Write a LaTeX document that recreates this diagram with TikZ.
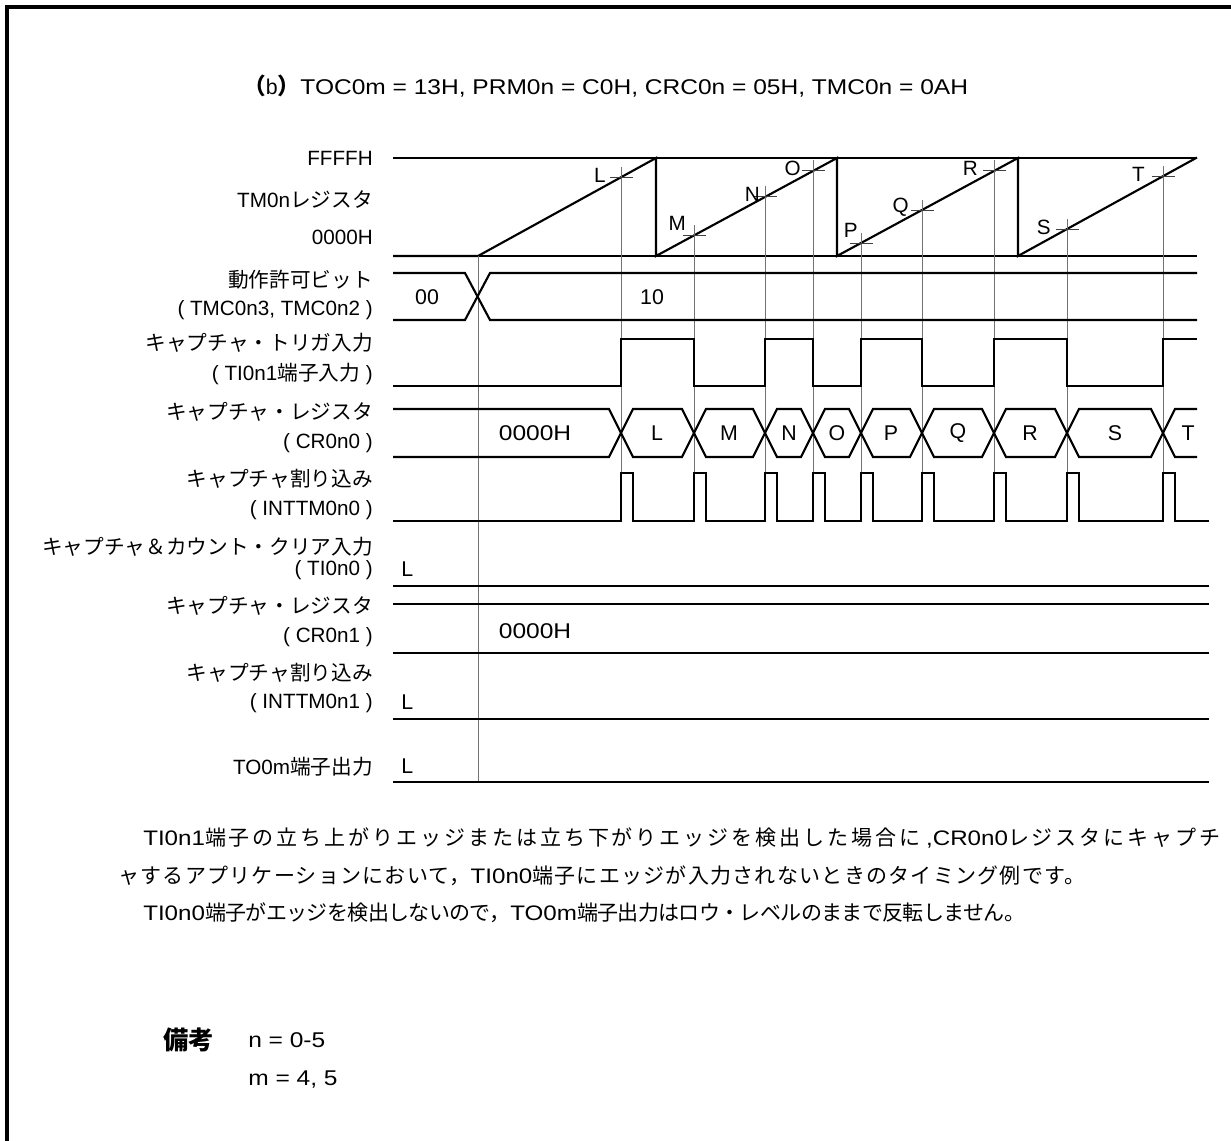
\documentclass[tikz,border=0pt]{standalone}
\usepackage{fontspec}
\setmainfont{Liberation Sans}
\newfontfamily\jp{Noto Sans CJK JP}
\newfontfamily\jpls[LetterSpace=14]{Noto Sans CJK JP}
\newfontfamily\jplt[LetterSpace=6]{Noto Sans CJK JP}
\newfontfamily\jpnr[LetterSpace=-3]{Noto Sans CJK JP}
\newfontfamily\widesans[FakeStretch=1.15]{Liberation Sans}
\newcommand\J[1]{{\jp #1}}
\newcommand\JL[1]{{\jpls #1}}
\newcommand\JT[1]{{\jplt #1}}
\newcommand\JN[1]{{\jpnr #1}}
\newcommand\W[1]{{\widesans #1}}
\begin{document}
\begin{tikzpicture}[x=0.75pt,y=-0.75pt,
  sig/.style={line width=1.6pt},
  refline/.style={line width=0.8pt},
  guide/.style={line width=0.7pt, black!55},
  tickmark/.style={line width=0.7pt, black!75},
  lbl/.style={anchor=east, inner sep=0pt, font=\fontsize{15.5}{18}\selectfont},
  val/.style={inner sep=0pt, font=\fontsize{16}{18}\selectfont},
  tlbl/.style={anchor=base east, inner sep=0pt, font=\fontsize{15.5}{18}\selectfont},
  para/.style={anchor=west, inner sep=0pt, font=\fontsize{15.75}{20}\selectfont},
]
\useasboundingbox (0,0) rectangle (1231,1141);
% frame
\draw[line width=2.4pt] (7,1141) -- (7,7) -- (1231,7);

% title
\node[anchor=west, inner sep=0pt, font=\fontsize{16}{18}\selectfont] (title) at (243,86)
  {{\fontsize{17}{18}\selectfont\J{\bfseries （}}b{\fontsize{17}{18}\selectfont\J{\bfseries ）}}\W{TOC0m = 13H, PRM0n = C0H, CRC0n = 05H, TMC0n = 0AH}};

% left labels
\node[lbl] (lF) at (373,158) {FFFFH};
\node[lbl] (lTM) at (373,200) {TM0n\J{レジスタ}};
\node[lbl] (l0) at (373,237) {0000H};
\node[lbl] (lEa) at (373,280) {\J{動作許可ビット}};
\node[lbl] (lEb) at (373,310) {( TMC0n3, TMC0n2 )};
\node[lbl] (lTa) at (373,343) {\J{キャプチャ・トリガ入力}};
\node[lbl] (lTb) at (373,374) {( TI0n1\J{端子入力} )};
\node[lbl] (lCa) at (373,412) {\J{キャプチャ・レジスタ}};
\node[lbl] (lCb) at (373,443) {( CR0n0 )};
\node[lbl] (lIa) at (373,479) {\J{キャプチャ割り込み}};
\node[lbl] (lIb) at (373,510) {( INTTM0n0 )};
\node[lbl] (lKa) at (373,547) {\J{キャプチャ＆カウント・クリア入力}};
\node[lbl] (lKb) at (373,570) {( TI0n0 )};
\node[lbl] (lDa) at (373,606) {\J{キャプチャ・レジスタ}};
\node[lbl] (lDb) at (373,637) {( CR0n1 )};
\node[lbl] (lJa) at (373,673) {\J{キャプチャ割り込み}};
\node[lbl] (lJb) at (373,703) {( INTTM0n1 )};
\node[lbl] (lTO) at (373,767) {TO0m\J{端子出力}};

% TM0n counter
\draw[refline] (393,158) -- (1197,158);
\draw[refline] (393,256) -- (1197,256);
\draw[sig] (393,256) -- (478,256) -- (656,158) -- (656,256) -- (837,158) -- (837,256)
  -- (1018,158) -- (1018,256) -- (1197,157.5);

% capture guides and ticks
\foreach \x/\y in {621/177,694/235,765/196,813/170,861/243,922/210,994/170,1067/229,1163/176}{
  \draw[guide] (\x,{\y-10}) -- (\x,521);
  \draw[tickmark] ({\x-11},\y) -- ({\x+12},\y);
}
\draw[guide] (478,256) -- (478,782);

\node[tlbl] (tL) at (606,183) {L};
\node[tlbl] (tM) at (686,231) {M};
\node[tlbl] (tN) at (760,202) {N};
\node[tlbl] (tO) at (801,176) {O};
\node[tlbl] (tP) at (858,238) {P};
\node[tlbl] (tQ) at (909,213) {Q};
\node[tlbl] (tR) at (978,176) {R};
\node[tlbl] (tS) at (1051,235) {S};
\node[tlbl] (tT) at (1145,182) {T};

% enable bits
\draw[sig] (393,273) -- (465,273) -- (490,320) -- (1197,320);
\draw[sig] (393,320) -- (465,320) -- (490,273) -- (1197,273);
\node[val] (e00) at (427,297) {00};
\node[val] (e10) at (652,297) {10};

% TI0n1
\draw[sig] (393,386) -- (621,386) -- (621,339) -- (694,339) -- (694,386) -- (765,386)
  -- (765,339) -- (813,339) -- (813,386) -- (861,386) -- (861,339) -- (922,339)
  -- (922,386) -- (994,386) -- (994,339) -- (1067,339) -- (1067,386) -- (1163,386)
  -- (1163,339) -- (1197,339);

% CR0n0 bus
\draw[sig] (393,409) -- (609,409) -- (621,433) -- (609,457) -- (393,457);
\foreach \a/\b in {621/694,694/765,765/813,813/861,861/922,922/994,994/1067,1067/1163}{
  \draw[sig] (\a,433) -- ({\a+12},409) -- ({\b-12},409) -- (\b,433) -- ({\b-12},457) -- ({\a+12},457) -- cycle;
}
\draw[sig] (1197,409) -- (1175,409) -- (1163,433) -- (1175,457) -- (1197,457);
\node[val] (v0) at (535,433) {\W{0000H}};
\foreach \x/\n in {657/L,729/M,789/N,837/O,891/P,958/Q,1030/R,1115/S,1188/T}{
  \node[val] (v\n) at (\x,433) {\n};
}

% INTTM0n0
\draw[sig] (393,521)
  \foreach \t in {621,694,765,813,861,922,994,1067,1163}{ -- (\t,521) -- (\t,473) -- ({\t+12},473) -- ({\t+12},521) }
  -- (1209,521);

% lower rows
\draw[sig] (393,586) -- (1209,586);
\node[val, anchor=base west] (k0) at (401,576) {L};
\draw[sig] (393,604) -- (1209,604);
\draw[sig] (393,653) -- (1209,653);
\node[val] (d0) at (535,631) {\W{0000H}};
\draw[sig] (393,719) -- (1209,719);
\node[val, anchor=base west] (j0) at (401,709) {L};
\draw[sig] (393,782) -- (1209,782);
\node[val, anchor=base west] (o0) at (401,773) {L};

% paragraph
\node[para] (p1) at (143,838) {\W{TI0n1}\JL{端子の立ち上がりエッジまたは立ち下がりエッジを検出した場合に} \W{,CR0n0}\JL{レジスタにキャプチ}};
\node[para] (p2) at (118,876) {\JT{ャするアプリケーションにおいて，}\W{TI0n0}\JT{端子にエッジが入力されないときのタイミング例です。}};
\node[para] (p3) at (143,913) {\W{TI0n0}\JN{端子がエッジを検出しないので，}\W{TO0m}\JN{端子出力はロウ・レベルのままで反転しません。}};

% note
\node[anchor=west, inner sep=0pt, font=\fontsize{19}{20}\selectfont] (bk) at (163,1040) {\J{\bfseries 備考}};
\node[anchor=west, inner sep=0pt, font=\fontsize{16}{18}\selectfont] (n1) at (248,1040) {\W{n = 0-5}};
\node[anchor=west, inner sep=0pt, font=\fontsize{16}{18}\selectfont] (n2) at (248,1080) {\W{m = 4, 5}};
\end{tikzpicture}
\end{document}
